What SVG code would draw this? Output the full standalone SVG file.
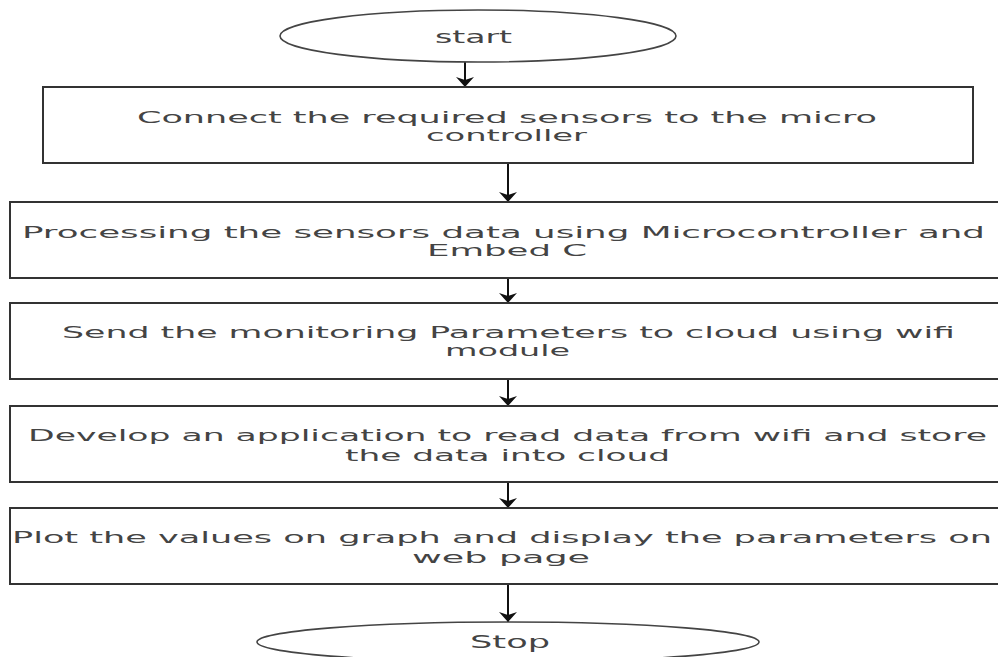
<svg xmlns="http://www.w3.org/2000/svg" width="998" height="657" viewBox="0 0 998 657">
<defs>
<marker id="ah" markerUnits="userSpaceOnUse" markerWidth="12" markerHeight="18" refX="11" refY="9" orient="auto" viewBox="0 0 12 18">
<path d="M1,0 L11,9 L1,18 L4,9 Z" fill="#111"/>
</marker>
</defs>
<style>
.box{fill:#fff;stroke:#333;stroke-width:2}
.term{fill:#fff;stroke:#444;stroke-width:1.6}
.t{font-family:"DejaVu Sans","Liberation Sans",sans-serif;font-size:16px;fill:#444;text-anchor:start;dominant-baseline:central}
.tt{font-family:"DejaVu Sans","Liberation Sans",sans-serif;font-size:17px;fill:#444;dominant-baseline:central}
.c{stroke:#111;stroke-width:2;fill:none;marker-end:url(#ah)}
</style>
<rect width="998" height="657" fill="#fff"/>
<g id="connectors">
<line class="c" x1="465" y1="62" x2="465" y2="87"/>
<line class="c" x1="508" y1="163" x2="508" y2="202"/>
<line class="c" x1="508" y1="278" x2="508" y2="303"/>
<line class="c" x1="508" y1="379" x2="508" y2="406"/>
<line class="c" x1="508" y1="482" x2="508" y2="508"/>
<line class="c" x1="508" y1="584" x2="508" y2="622"/>
</g>
<g id="start">
<ellipse class="term" cx="478" cy="36" rx="198" ry="26"/>
<text class="tt" x="435" y="37" textLength="77" lengthAdjust="spacingAndGlyphs">start</text>
</g>
<g id="step1">
<rect class="box" x="43" y="87" width="930" height="76"/>
<text class="t" x="137" y="117" textLength="740" lengthAdjust="spacingAndGlyphs">Connect the required sensors to the micro</text>
<text class="t" x="426" y="135" textLength="161" lengthAdjust="spacingAndGlyphs">controller</text>
</g>
<g id="step2">
<rect class="box" x="10" y="202" width="1000" height="76"/>
<text class="t" x="22" y="232" textLength="963" lengthAdjust="spacingAndGlyphs">Processing the sensors data using Microcontroller and</text>
<text class="t" x="427" y="250" textLength="160" lengthAdjust="spacingAndGlyphs">Embed C</text>
</g>
<g id="step3">
<rect class="box" x="10" y="303" width="1000" height="76"/>
<text class="t" x="62" y="332" textLength="893" lengthAdjust="spacingAndGlyphs">Send the monitoring Parameters to cloud using wifi</text>
<text class="t" x="445" y="350" textLength="125" lengthAdjust="spacingAndGlyphs">module</text>
</g>
<g id="step4">
<rect class="box" x="10" y="406" width="1000" height="76"/>
<text class="t" x="28" y="435" textLength="959" lengthAdjust="spacingAndGlyphs">Develop an application to read data from wifi and store</text>
<text class="t" x="345" y="455" textLength="325" lengthAdjust="spacingAndGlyphs">the data into cloud</text>
</g>
<g id="step5">
<rect class="box" x="10" y="508" width="1000" height="76"/>
<text class="t" x="12" y="537" textLength="980" lengthAdjust="spacingAndGlyphs">Plot the values on graph and display the parameters on</text>
<text class="t" x="412" y="557" textLength="178" lengthAdjust="spacingAndGlyphs">web page</text>
</g>
<g id="stop">
<ellipse class="term" cx="508" cy="642" rx="251" ry="20"/>
<text class="tt" x="470" y="642" textLength="80" lengthAdjust="spacingAndGlyphs">Stop</text>
</g>
</svg>
